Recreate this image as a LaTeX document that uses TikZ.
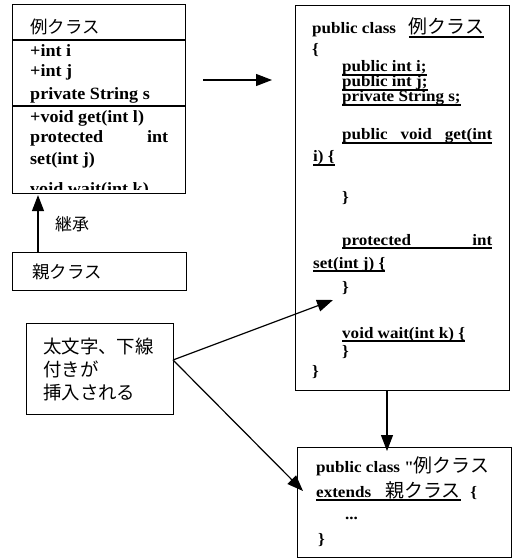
\documentclass[tikz,border=0pt]{standalone}
\usepackage{fontspec}
\setmainfont{Liberation Serif}
\newfontfamily\codefont{Liberation Serif}[FakeStretch=1.07]
\newfontfamily\umlfont{Liberation Serif}[FakeStretch=1.05]
\newfontfamily\jp{Noto Sans CJK JP}
\usetikzlibrary{arrows.meta}

% underline drawn just under the baseline, crossing descenders
\newcommand\undl[1]{\setbox0\hbox{#1}\rlap{\rule[-3.6bp]{\wd0}{1.2bp}}\box0}

\tikzset{
  frame/.style={draw, line width=1.1bp, inner sep=0pt, anchor=north west},
  umltxt/.style={anchor=base west, inner sep=0pt, font=\umlfont\bfseries\fontsize{17.3}{19}\selectfont},
  txt/.style={anchor=base west, inner sep=0pt, font=\codefont\bfseries\fontsize{16}{18}\selectfont},
  jptxt/.style={anchor=base west, inner sep=0pt, font=\jp\fontsize{17.5}{20}\selectfont},
  notetxt/.style={anchor=base west, inner sep=0pt, font=\jp\fontsize{18.5}{22}\selectfont},
  arr/.style={line width=1.2bp, -{Triangle[length=16bp,width=12bp]}},
}
\newcommand\jpc[1]{{\jp\mdseries\fontsize{19}{20}\selectfont #1}}

\begin{document}
\begin{tikzpicture}[x=1bp,y=-1bp]
\useasboundingbox (0,0) rectangle (513,559);

% --- UML class box ---
\node[frame, minimum width=173bp, minimum height=189bp] (uml) at (12,4) {};
\draw[line width=1.1bp] (12,40) -- (185,40);
\draw[line width=1.1bp] (12,106) -- (185,106);
\node[jptxt] (umlname) at (30,34) {例クラス};
\node[umltxt] (a1) at (30,57) {+int i};
\node[umltxt] (a2) at (30,77) {+int j};
\node[umltxt] (a3) at (30,100) {private String s};
\node[umltxt] (m1) at (30,123) {+void get(int l)};
\node[umltxt] (m2) at (30,143) {\makebox[138bp][s]{protected\hfill int}};
\node[umltxt] (m3) at (30,165) {set(int j)};
\begin{scope}
  \clip (12,4) rectangle (185,190);
  \node[umltxt] (m4) at (30,195) {void wait(int k)};
\end{scope}

% --- parent class ---
\node[frame, minimum width=174bp, minimum height=38bp] (parent) at (12,252) {};
\node[jptxt] (parentname) at (32,278) {親クラス};
\draw[arr] ([xshift=26bp]parent.north west) -- ([xshift=26bp,yshift=-1bp]uml.south west);
\node[jptxt, font=\jp\fontsize{17}{20}\selectfont] (inh) at (55,230) {継承};

% --- note ---
\node[frame, minimum width=147bp, minimum height=91bp] (note) at (26,323) {};
\node[notetxt] (n1) at (43,353) {太文字、下線};
\node[notetxt] (n2) at (43,376) {付きが};
\node[notetxt] (n3) at (43,399) {挿入される};

% --- generated class source ---
\node[frame, minimum width=214bp, minimum height=385bp] (code) at (295,5) {};
\node[txt] (c1) at (312,34) {public class\hspace{0.8em}\undl{\jpc{例クラス}}};
\node[txt] (c2) at (312,55) {\{};
\node[txt] (c3) at (342,72) {\undl{public int i;}};
\node[txt] (c4) at (342,87) {\undl{public int j;}};
\node[txt] (c5) at (342,102) {\undl{private String s;}};
\node[txt] (c6) at (342,140) {\undl{\makebox[150bp][s]{public void get(int}}};
\node[txt] (c7) at (313,162) {\undl{i) \{}};
\node[txt] (c8) at (342,203) {\}};
\node[txt] (c9) at (342,245) {\undl{\makebox[150bp][s]{protected\hfill int}}};
\node[txt] (c10) at (313,268) {\undl{set(int j) \{}};
\node[txt] (c11) at (342,292) {\}};
\node[txt] (c12) at (342,338) {\undl{void wait(int k) \{}};
\node[txt] (c13) at (342,356) {\}};
\node[txt] (c14) at (312,376) {\}};

% --- subclass source ---
\node[frame, minimum width=214bp, minimum height=110bp] (sub) at (297,447) {};
\node[txt] (s1) at (316,472) {public class "\jpc{例クラス}};
\node[txt] (s2) at (316,497) {\undl{extends\hspace{0.9em}\jpc{親クラス}}\hspace{0.6em}\{};
\node[txt] (s3) at (345,519) {...};
\node[txt] (s4) at (318,544) {\}};

% --- connectors ---
\coordinate (r0) at (203,80);
\coordinate (r1) at (272,80);
\draw[arr] (r0) -- (r1);
\draw[arr] (code.south -| 387,0) -- ([yshift=-4bp]sub.north -| 387,0);
\coordinate (n0) at (173,360);
\coordinate (t1) at (333,300);
\coordinate (t2) at (303,491);
\draw[arr] (n0) -- (t1);
\draw[arr] (n0) -- (t2);
\end{tikzpicture}
\end{document}
